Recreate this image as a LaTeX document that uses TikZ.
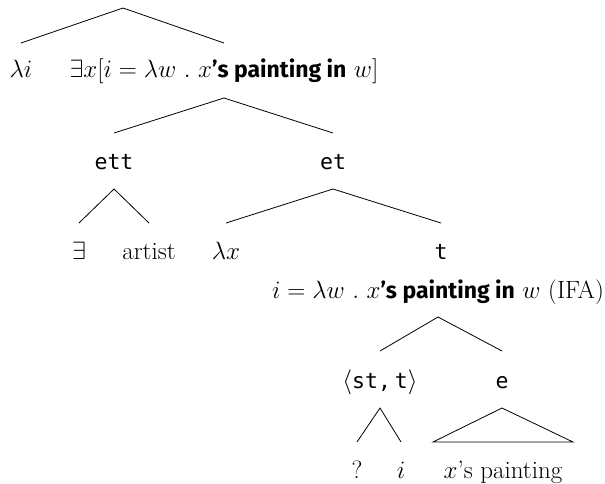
\documentclass[tikz,border=0pt]{standalone}
\usepackage{fix-cm}
\usepackage{fontspec}
\newfontfamily\bsf{Fira Sans}
\newfontfamily\mono{DejaVu Sans Mono}
\newcommand{\bs}[1]{{\bsf\bfseries\fontsize{23}{27}\selectfont #1}}
\newcommand{\mt}[1]{{\mono\fontsize{21.5}{25}\selectfont #1}}
\tikzset{
  lbl/.style={anchor=base, inner sep=0pt, font=\fontsize{25}{30}\selectfont},
  br/.style={line width=0.8pt, black}
}
\begin{document}
\begin{tikzpicture}[x=1pt, y=-1pt]
\useasboundingbox (0,0) rectangle (605,483);
\coordinate (root) at (123,8);
% row 1
\node[lbl] (li) at (21,77) {$\lambda i$};
\node[lbl] (ex) at (224,77) {$\exists x[i = \lambda w\ .\ x$\bs{’s painting in} $w]$};
% row 2
\node[lbl] (ett) at (114,169) {\mt{ett}};
\node[lbl] (et) at (333,169) {\mt{et}};
% row 3
\node[lbl] (E) at (79,259) {$\exists$};
\node[lbl] (artist) at (149,259) {artist};
\node[lbl] (lx) at (226,259) {$\lambda x$};
\node[lbl] (t) at (441,259) {\mt{t}};
\node[lbl] (tsub) at (438,298) {$i = \lambda w\ .\ x$\bs{’s painting in} $w$ (IFA)};
% row 4
\node[lbl] (stt) at (380,388) {$\langle$\mt{st,}\hspace{4pt}\mt{t}$\rangle$};
\node[lbl] (e) at (502,388) {\mt{e}};
% row 5
\node[lbl] (q) at (357,478) {?};
\node[lbl] (i) at (401,478) {$i$};
\node[lbl] (xp) at (503,478) {$x$’s painting};
% branches
\draw[br] ([yshift=34pt]li.base) -- (root) -- ([yshift=34pt]ex.base);
\draw[br] ([yshift=36pt]ett.base) -- ([yshift=-21pt]ex.base) -- ([yshift=36pt]et.base);
\draw[br] ([yshift=36pt]E.base) -- ([yshift=-20pt]ett.base) -- ([yshift=36pt]artist.base);
\draw[br] ([yshift=36pt]lx.base) -- ([yshift=-20pt]et.base) -- ([yshift=36pt]t.base);
\draw[br] ([yshift=37pt]stt.base) -- ([yshift=-19pt]tsub.base) -- ([yshift=37pt]e.base);
\draw[br] ([yshift=36pt]q.base) -- ([yshift=-20pt]stt.base) -- ([yshift=36pt]i.base);
\draw[br] ([xshift=-70pt,yshift=36pt]xp.base) -- ([yshift=-20pt]e.base) -- ([xshift=70pt,yshift=36pt]xp.base) -- cycle;
\end{tikzpicture}
\end{document}
